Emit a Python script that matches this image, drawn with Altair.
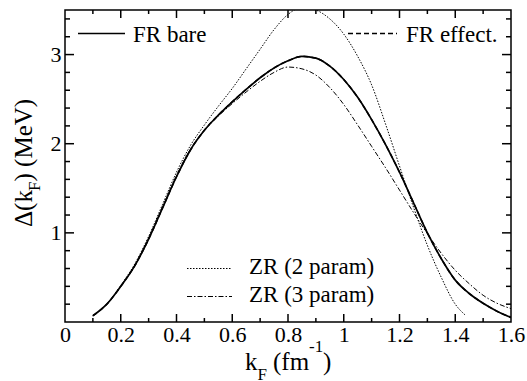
import altair as alt
import pandas as pd

# ---------------- data ----------------
k_grid = [0.1, 0.15, 0.2, 0.25, 0.3, 0.35, 0.4, 0.45, 0.5, 0.55, 0.6, 0.65, 0.7, 0.75,
          0.8, 0.85, 0.9, 0.95, 1.0, 1.05, 1.1, 1.15, 1.2, 1.25, 1.3, 1.35, 1.4, 1.45,
          1.5, 1.55, 1.6]

fr_bare = [0.07, 0.20, 0.40, 0.63, 0.93, 1.28, 1.63, 1.93, 2.15, 2.32, 2.47, 2.61, 2.74,
           2.85, 2.93, 2.98, 2.96, 2.87, 2.72, 2.52, 2.27, 1.99, 1.68, 1.34, 1.00, 0.71,
           0.47, 0.32, 0.21, 0.12, 0.05]

fr_effect = [0.07, 0.20, 0.40, 0.63, 0.93, 1.28, 1.63, 1.93, 2.15, 2.32, 2.47, 2.61, 2.74,
             2.85, 2.93, 2.98, 2.96, 2.87, 2.72, 2.52, 2.27, 1.99, 1.68, 1.34, 1.00, 0.71,
             0.47, 0.32, 0.21, 0.12, 0.05]

zr3 = [0.07, 0.20, 0.40, 0.63, 0.94, 1.29, 1.64, 1.94, 2.15, 2.31, 2.45, 2.58, 2.70,
       2.80, 2.86, 2.84, 2.77, 2.63, 2.44, 2.21, 1.97, 1.73, 1.48, 1.23, 0.99, 0.77,
       0.58, 0.43, 0.30, 0.21, 0.15]

k_zr2 = [0.1, 0.15, 0.2, 0.25, 0.3, 0.35, 0.4, 0.45, 0.5, 0.55, 0.6, 0.65, 0.7, 0.75,
         0.8, 0.85, 0.9, 0.95, 1.0, 1.05, 1.1, 1.15, 1.2, 1.25, 1.3, 1.35, 1.4, 1.435]
zr2 = [0.07, 0.20, 0.41, 0.65, 0.96, 1.32, 1.68, 1.98, 2.21, 2.42, 2.62, 2.84, 3.06,
       3.28, 3.45, 3.53, 3.50, 3.40, 3.23, 2.98, 2.66, 2.22, 1.75, 1.29, 0.86, 0.50,
       0.20, 0.08]

x_major = [0.2, 0.4, 0.6, 0.8, 1.0, 1.2, 1.4]
x_minor = [0.1, 0.3, 0.5, 0.7, 0.9, 1.1, 1.3, 1.5]
y_major = [1, 2, 3]
y_minor = [0.2, 0.4, 0.6, 0.8, 1.2, 1.4, 1.6, 1.8, 2.2, 2.4, 2.6, 2.8, 3.2, 3.4]
x_labels = [0, 0.2, 0.4, 0.6, 0.8, 1.0, 1.2, 1.4, 1.6]
y_labels = [1, 2, 3]

legend_labels = ["FR bare", "FR effect.", "ZR (2 param)", "ZR (3 param)"]

# ---------------- layout ----------------
W, H = 446, 312
FONT = "Liberation Serif"

xs = alt.Scale(domain=[0, 1.6], nice=False, zero=False)
ys = alt.Scale(domain=[0, 3.5], nice=False, zero=False)

AX = alt.Axis(values=x_labels, format="~g", title="", ticks=False, domain=False, grid=False,
              labelFont=FONT, labelFontSize=22, labelColor="black", labelPadding=2,
              labelFlush=False)
AY = alt.Axis(values=y_labels, format="~g", title="", ticks=False, domain=False, grid=False,
              labelFont=FONT, labelFontSize=22, labelColor="black", labelPadding=4,
              labelFlush=False)


def series(kv, vals):
    return pd.DataFrame({"k": kv, "d": vals})


def line(df, dash=None, width=1.6):
    kw = dict(clip=True, color="black", strokeWidth=width, interpolate="monotone")
    if dash:
        kw["strokeDash"] = dash
    return alt.Chart(df).mark_line(**kw).encode(
        x=alt.X("k:Q", scale=xs, axis=AX),
        y=alt.Y("d:Q", scale=ys, axis=AY))


layers = []
layers.append(line(series(k_zr2, zr2), dash=[1.5, 1.5], width=1.0))
layers.append(line(series(k_grid, zr3), dash=[5, 2, 1.5, 2], width=1.0))
layers.append(line(series(k_grid, fr_effect), dash=[5, 3], width=1.5))
layers.append(line(series(k_grid, fr_bare), width=1.7))


# inward ticks on all four sides
def xticks(vals, length):
    df = pd.DataFrame({"k": vals})
    b = alt.Chart(df).mark_rule(color="black", strokeWidth=1.5).encode(
        x=alt.X("k:Q", scale=xs, axis=AX), y=alt.value(H), y2=alt.value(H - length))
    t = alt.Chart(df).mark_rule(color="black", strokeWidth=1.5).encode(
        x=alt.X("k:Q", scale=xs, axis=AX), y=alt.value(0), y2=alt.value(length))
    return [b, t]


def yticks(vals, length):
    df = pd.DataFrame({"d": vals})
    l = alt.Chart(df).mark_rule(color="black", strokeWidth=1.5).encode(
        y=alt.Y("d:Q", scale=ys, axis=AY), x=alt.value(0), x2=alt.value(length))
    r = alt.Chart(df).mark_rule(color="black", strokeWidth=1.5).encode(
        y=alt.Y("d:Q", scale=ys, axis=AY), x=alt.value(W), x2=alt.value(W - length))
    return [l, r]


layers += xticks(x_major, 8) + xticks(x_minor, 4) + yticks(y_major, 9) + yticks(y_minor, 5)


# legend samples and labels
def sample(x1, x2, y, dash=None, width=1.5):
    kw = dict(color="black", strokeWidth=width)
    if dash:
        kw["strokeDash"] = dash
    return alt.Chart(pd.DataFrame({"a": [0]})).mark_rule(**kw).encode(
        x=alt.value(x1), x2=alt.value(x2), y=alt.value(y))


def label(txt, x, y, size=23, dx=0, dy=0, angle=0):
    kw = dict(font=FONT, fontSize=size, align="left", baseline="alphabetic", color="black")
    if dx:
        kw["dx"] = dx
    if dy:
        kw["dy"] = dy
    if angle:
        kw["angle"] = angle
    return alt.Chart(pd.DataFrame({"s": [txt]})).mark_text(**kw).encode(
        x=alt.value(x), y=alt.value(y), text="s:N")


layers += [
    sample(13, 60, 23.5, width=1.6),
    label(legend_labels[0], 68, 31.5),
    sample(283, 332, 23.5, dash=[5, 3]),
    label(legend_labels[1], 341, 31.5),
    sample(122, 167, 258.5, dash=[1.5, 1.5], width=1.0),
    label(legend_labels[2], 184, 263.5),
    sample(122, 167, 286.5, dash=[5, 2, 1.5, 2], width=1.0),
    label(legend_labels[3], 184, 291.5),
]

# x-axis title: k_F (fm^-1)
layers += [
    label("k", 180, 360, size=25),
    label("F", 192.5, 370, size=17),
    label("(fm", 208, 360, size=25),
    label("-1", 244, 342, size=17),
    label(")", 258, 360, size=25),
]

# y-axis title: Δ(k_F) (MeV), rotated
yx, yy = -33, 217
layers += [
    label("Δ(k", yx, yy, size=25, angle=270),
    label("F", yx, yy, size=17, angle=270, dx=36, dy=8),
    label(") (MeV)", yx, yy, size=25, angle=270, dx=45.5),
]

chart = alt.layer(*layers).properties(
    width=W, height=H,
    autosize=alt.AutoSizeParams(type="none"),
    padding={"left": 65, "top": 10, "right": 16, "bottom": 59},
).configure(
    font=FONT,
    background="white",
    view=alt.ViewConfig(stroke="black", strokeWidth=1.5),
)

chart.save("out.html", embed_options={"renderer": "svg", "actions": False})
